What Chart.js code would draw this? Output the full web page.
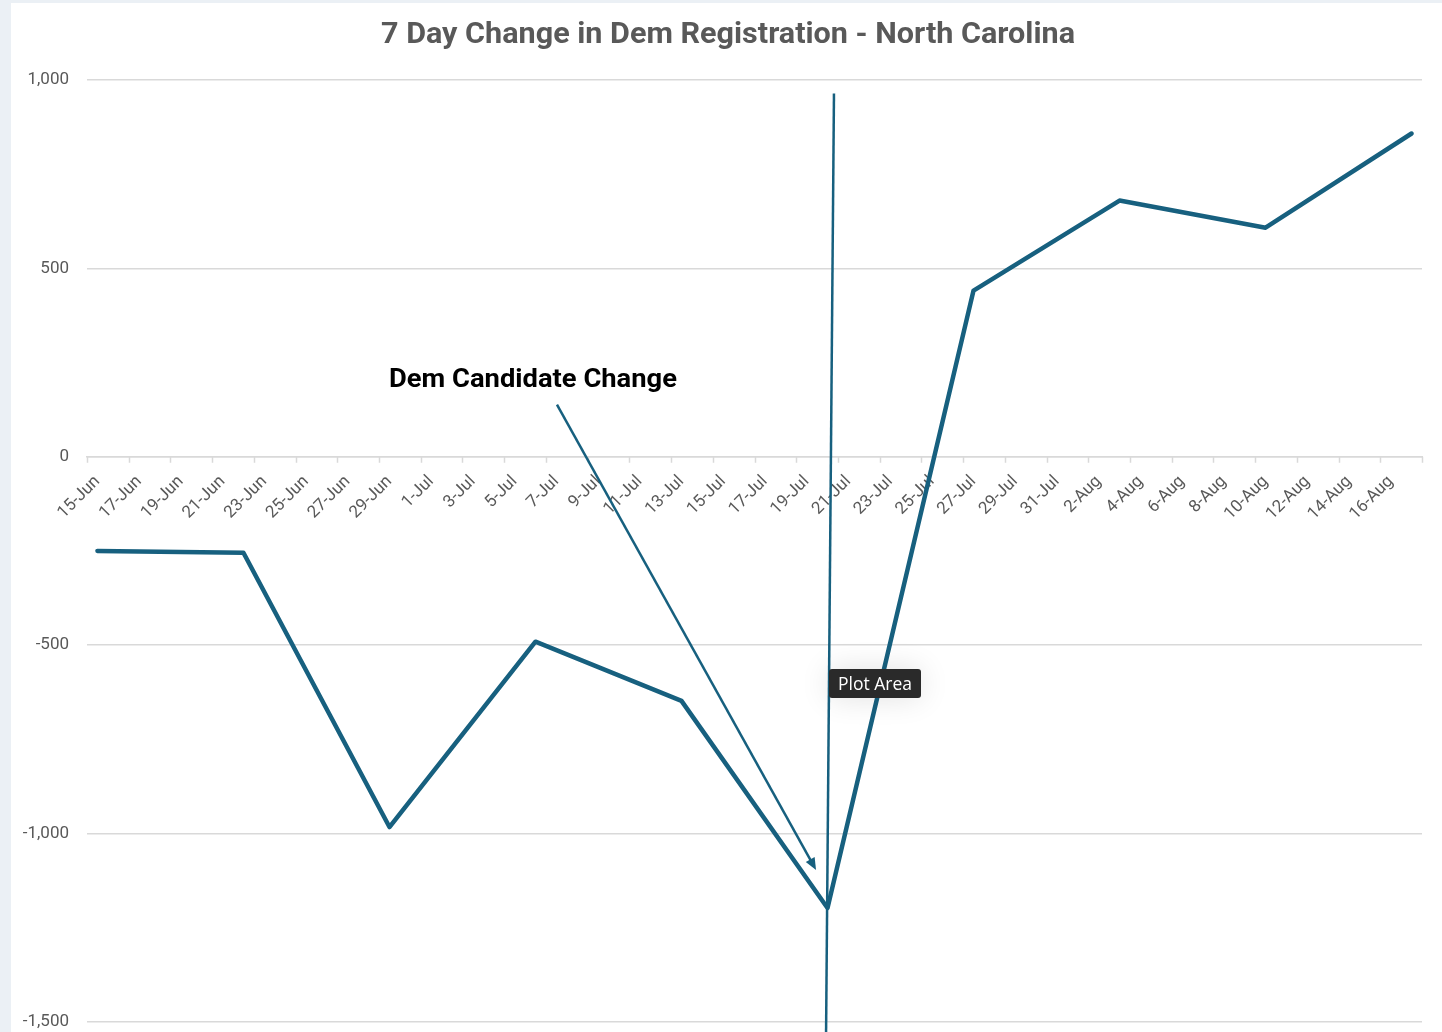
<!DOCTYPE html>
<html lang="en">
<head>
  <meta charset="UTF-8"/>
  <title>7 Day Change in Dem Registration - North Carolina</title>
  <style>
    html, body {
      margin: 0;
      padding: 0;
      background: #ebf0f5;
      overflow: hidden;
    }
    #frame {
      position: absolute;
      left: 11px;
      top: 3px;
      width: 1431px;
      height: 1029px;
      background: #fff;
    }
    #wrap {
      position: absolute;
      left: 0;
      top: 0;
      width: 1442px;
      height: 1032px;
      overflow: hidden;
    }
    #tip {
      position: absolute;
      left: 829px;
      top: 669px;
      width: 92px;
      height: 29px;
      background: #2a2a2a;
      color: #fff;
      border-radius: 3px;
      font: 17.5px 'Open Sans', Roboto, sans-serif;
      line-height: 29px;
      text-align: center;
      box-shadow: 0 0 30px rgba(0,0,0,0.12);
    }
  </style>
</head>
<body>
<div id="frame"></div>
<div id="wrap"><canvas id="chart" width="1442" height="1050"></canvas></div>
<div id="tip">Plot Area</div>

<script src="https://cdn.jsdelivr.net/npm/chart.js"></script>
<script>
const TITLE = "7 Day Change in Dem Registration - North Carolina";
const NOTE = "Dem Candidate Change";

// one category per day, 15-Jun .. 17-Aug
const days = [
  "15-Jun","16-Jun","17-Jun","18-Jun","19-Jun","20-Jun","21-Jun","22-Jun","23-Jun","24-Jun",
  "25-Jun","26-Jun","27-Jun","28-Jun","29-Jun","30-Jun",
  "1-Jul","2-Jul","3-Jul","4-Jul","5-Jul","6-Jul","7-Jul","8-Jul","9-Jul","10-Jul",
  "11-Jul","12-Jul","13-Jul","14-Jul","15-Jul","16-Jul","17-Jul","18-Jul","19-Jul","20-Jul",
  "21-Jul","22-Jul","23-Jul","24-Jul","25-Jul","26-Jul","27-Jul","28-Jul","29-Jul","30-Jul","31-Jul",
  "1-Aug","2-Aug","3-Aug","4-Aug","5-Aug","6-Aug","7-Aug","8-Aug","9-Aug","10-Aug",
  "11-Aug","12-Aug","13-Aug","14-Aug","15-Aug","16-Aug","17-Aug"
];

// weekly readings
const weekDates = ["15-Jun","22-Jun","29-Jun","6-Jul","13-Jul","20-Jul","27-Jul","3-Aug","10-Aug","17-Aug"];
const weekChange = [-250, -255, -983, -491, -648, -1198, 441, 680, 608, 858];

const yTicks = [-1500, -1000, -500, 0, 500, 1000];

// annotation, in data units: [category index, value]
const markerTop = [35.31, 964];
const markerBottom = [34.93, -1535];
const arrowFrom = [22.03, 138];
const arrowTo = [34.45, -1097];
const noteAt = [20.88, 203];

const LINE = "#17607f";
const GRID = "#d9d9d9";
const TEXT = "#595959";

// wanted plot box inside the canvas
const AREA_TOP = 80;
const AREA_BOTTOM = 1021;

const points = weekDates.map((d, i) => ({ x: d, y: weekChange[i] }));

const overlay = {
  id: "overlay",
  beforeDatasetsDraw(chart) {
    // tick marks every second day on the zero line
    const { ctx, scales: { x, y } } = chart;
    const half = (x.getPixelForValue(1) - x.getPixelForValue(0)) / 2;
    const y0 = y.getPixelForValue(0);
    ctx.save();
    ctx.strokeStyle = GRID;
    ctx.lineWidth = 1.5;
    ctx.beginPath();
    for (let i = 0; i <= days.length; i += 2) {
      const px = Math.round(x.getPixelForValue(i) - half) + 0.5;
      ctx.moveTo(px, y0);
      ctx.lineTo(px, y0 + 6);
    }
    const end = Math.round(x.getPixelForValue(days.length - 1) + half) + 0.5;
    ctx.moveTo(end, y0);
    ctx.lineTo(end, y0 + 6);
    ctx.stroke();
    ctx.restore();
  },
  afterDatasetsDraw(chart) {
    const { ctx, scales: { x, y } } = chart;
    const px = p => [x.getPixelForValue(p[0]), y.getPixelForValue(p[1])];
    ctx.save();
    ctx.strokeStyle = LINE;
    ctx.fillStyle = LINE;
    ctx.lineWidth = 2.5;

    // vertical marker
    let a = px(markerTop), b = px(markerBottom);
    ctx.beginPath();
    ctx.moveTo(a[0], a[1]);
    ctx.lineTo(b[0], b[1]);
    ctx.stroke();

    // arrow
    a = px(arrowFrom); b = px(arrowTo);
    const ang = Math.atan2(b[1] - a[1], b[0] - a[0]);
    const head = 13;
    const sx = b[0] - Math.cos(ang) * head * 0.8;
    const sy = b[1] - Math.sin(ang) * head * 0.8;
    ctx.beginPath();
    ctx.moveTo(a[0], a[1]);
    ctx.lineTo(sx, sy);
    ctx.stroke();
    ctx.beginPath();
    ctx.moveTo(b[0], b[1]);
    ctx.lineTo(b[0] - head * Math.cos(ang - 0.4), b[1] - head * Math.sin(ang - 0.4));
    ctx.lineTo(b[0] - head * Math.cos(ang + 0.4), b[1] - head * Math.sin(ang + 0.4));
    ctx.closePath();
    ctx.fill();

    // note text
    const t = px(noteAt);
    ctx.fillStyle = "#000";
    ctx.font = "bold 26px Roboto, sans-serif";
    ctx.textAlign = "center";
    ctx.textBaseline = "middle";
    const w = ctx.measureText(NOTE).width;
    ctx.translate(t[0], t[1]);
    ctx.scale(288 / w, 1);
    ctx.fillText(NOTE, 0, 0);
    ctx.restore();

    // title, squeezed to the reference width
    ctx.save();
    ctx.fillStyle = TEXT;
    ctx.font = "bold 30px Roboto, sans-serif";
    ctx.textAlign = "center";
    ctx.textBaseline = "middle";
    const tw = ctx.measureText(TITLE).width;
    ctx.translate(728, 35);
    ctx.scale(694 / tw, 1);
    ctx.fillText(TITLE, 0, 0);
    ctx.restore();
  }
};

const chart = new Chart(document.getElementById("chart"), {
  type: "line",
  data: {
    labels: days,
    datasets: [{
      data: points,
      borderColor: LINE,
      borderWidth: 4.5,
      pointRadius: 0,
      tension: 0,
      borderJoinStyle: "round",
      borderCapStyle: "round"
    }]
  },
  options: {
    responsive: false,
    animation: false,
    events: [],
    layout: { padding: { top: AREA_TOP, right: 20, bottom: 11, left: 0 } },
    plugins: {
      legend: { display: false },
      title: { display: false },
      tooltip: { enabled: false }
    },
    scales: {
      x: {
        type: "category",
        offset: true,
        position: { y: 0 },
        afterFit: s => { s.height = 0; },
        grid: {
          offset: true,
          drawOnChartArea: false,
          drawTicks: true,
          tickLength: 15,
          tickColor: "transparent"
        },
        border: { display: true, color: GRID, width: 1.5 },
        ticks: {
          autoSkip: false,
          minRotation: 45,
          maxRotation: 45,
          padding: 0,
          color: TEXT,
          font: { family: "Roboto, sans-serif", size: 17 },
          callback: function (v, i) { return i % 2 === 0 ? this.getLabelForValue(v) : null; }
        }
      },
      y: {
        min: yTicks[0],
        max: yTicks[yTicks.length - 1],
        afterFit: s => { s.width = 87; },
        afterBuildTicks: s => { s.ticks = yTicks.map(v => ({ value: v })); },
        grid: { color: GRID, lineWidth: 1.5, drawTicks: false },
        border: { display: false },
        ticks: {
          padding: 18,
          color: TEXT,
          font: { family: "Roboto, sans-serif", size: 17 },
          callback: v => v.toLocaleString("en-US")
        }
      }
    }
  },
  plugins: [overlay]
});

// nudge the padding so the plot box lands where the reference has it
const pad = chart.options.layout.padding;
pad.bottom += chart.chartArea.bottom - AREA_BOTTOM;
pad.top += AREA_TOP - chart.chartArea.top;
chart.update();
</script>
</body>
</html>
